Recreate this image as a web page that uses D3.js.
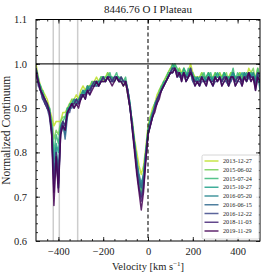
<!DOCTYPE html>
<html>
<head>
<meta charset="utf-8">
<script src="https://cdn.jsdelivr.net/npm/d3@7"></script>
<style>
  body { margin: 0; background: #fff; }
  svg { display: block; }
</style>
</head>
<body>
<div id="chart"></div>
<script>
// Chart data
let title = '8446.76 O I Plateau';
let velocity = d3.range(-500, 501, 10);
let dates = ['2013-12-27', '2015-06-02', '2015-07-24', '2015-10-27', '2016-05-20',
  '2016-06-15', '2016-12-22', '2018-11-03', '2019-11-29'];
// gray marker lines (km/s)
let markers = [-423, -396, -314];
let xTicks = [-400, -200, 0, 200, 400];
let yTicks = [0.6, 0.7, 0.8, 0.9, 1.0, 1.1];

let flux0 = [1.00, 0.97, 0.95, 0.94, 0.93, 0.92, 0.90, 0.88, 0.86, 0.87,
  0.87, 0.87, 0.89, 0.89, 0.90, 0.91, 0.92, 0.92, 0.93, 0.92,
  0.94, 0.95, 0.94, 0.95, 0.95, 0.96, 0.96, 0.97, 0.96, 0.97,
  0.96, 0.97, 0.98, 0.97, 0.97, 0.96, 0.97, 0.97, 0.96, 0.95,
  0.96, 0.93, 0.90, 0.87, 0.83, 0.80, 0.77, 0.75, 0.77, 0.81,
  0.86, 0.88, 0.90, 0.91, 0.93, 0.94, 0.95, 0.96, 0.97, 0.98,
  0.99, 1.00, 0.99, 0.98, 0.99, 0.98, 0.99, 0.97, 0.98, 1.00,
  0.98, 0.97, 0.97, 0.97, 0.98, 0.97, 0.97, 0.98, 0.97, 0.97,
  0.98, 0.97, 0.98, 0.97, 0.98, 0.97, 0.97, 0.98, 0.98, 0.97,
  0.97, 0.98, 0.97, 0.98, 0.97, 0.99, 0.98, 0.98, 0.97, 0.99, 0.96];
let flux1 = [0.99, 0.96, 0.95, 0.93, 0.92, 0.91, 0.89, 0.87, 0.83, 0.85,
  0.84, 0.87, 0.88, 0.88, 0.90, 0.90, 0.92, 0.91, 0.92, 0.92,
  0.93, 0.94, 0.94, 0.95, 0.94, 0.95, 0.96, 0.96, 0.96, 0.97,
  0.97, 0.96, 0.98, 0.97, 0.96, 0.97, 0.97, 0.96, 0.97, 0.96,
  0.96, 0.94, 0.90, 0.86, 0.82, 0.78, 0.74, 0.71, 0.75, 0.80,
  0.85, 0.88, 0.89, 0.91, 0.92, 0.94, 0.95, 0.96, 0.97, 0.98,
  0.99, 0.99, 1.00, 0.98, 0.99, 0.97, 0.99, 0.97, 0.98, 0.99,
  0.97, 0.96, 0.97, 0.96, 0.98, 0.97, 0.96, 0.98, 0.97, 0.96,
  0.97, 0.97, 0.98, 0.96, 0.97, 0.98, 0.96, 0.98, 0.98, 0.96,
  0.97, 0.98, 0.96, 0.98, 0.97, 0.98, 0.98, 0.99, 0.96, 0.98, 0.97];
let flux2 = [0.99, 0.97, 0.94, 0.94, 0.92, 0.91, 0.90, 0.86, 0.80, 0.84,
  0.82, 0.86, 0.87, 0.88, 0.89, 0.91, 0.91, 0.92, 0.91, 0.92,
  0.93, 0.94, 0.93, 0.95, 0.94, 0.96, 0.95, 0.96, 0.95, 0.97,
  0.97, 0.97, 0.97, 0.98, 0.96, 0.97, 0.98, 0.96, 0.97, 0.96,
  0.97, 0.94, 0.91, 0.86, 0.82, 0.77, 0.73, 0.70, 0.74, 0.79,
  0.85, 0.87, 0.89, 0.90, 0.92, 0.93, 0.95, 0.95, 0.96, 0.98,
  0.98, 0.99, 1.00, 0.99, 0.98, 0.98, 0.98, 0.97, 0.99, 0.98,
  0.98, 0.96, 0.97, 0.96, 0.97, 0.98, 0.96, 0.97, 0.98, 0.96,
  0.98, 0.97, 0.97, 0.97, 0.98, 0.96, 0.97, 0.97, 0.99, 0.96,
  0.98, 0.97, 0.97, 0.98, 0.96, 0.98, 0.97, 0.98, 0.96, 0.99, 0.97];
let flux3 = [0.98, 0.96, 0.95, 0.93, 0.92, 0.90, 0.90, 0.86, 0.78, 0.82,
  0.80, 0.86, 0.87, 0.86, 0.90, 0.90, 0.91, 0.91, 0.92, 0.91,
  0.93, 0.93, 0.94, 0.94, 0.95, 0.95, 0.96, 0.95, 0.96, 0.96,
  0.97, 0.96, 0.97, 0.97, 0.97, 0.96, 0.97, 0.97, 0.96, 0.96,
  0.96, 0.94, 0.90, 0.87, 0.82, 0.78, 0.74, 0.72, 0.75, 0.80,
  0.85, 0.87, 0.88, 0.91, 0.92, 0.93, 0.94, 0.96, 0.96, 0.97,
  0.98, 1.00, 0.99, 0.98, 0.98, 0.97, 0.99, 0.98, 0.97, 0.99,
  0.97, 0.97, 0.96, 0.97, 0.97, 0.96, 0.97, 0.98, 0.96, 0.97,
  0.97, 0.98, 0.97, 0.96, 0.98, 0.97, 0.97, 0.96, 0.98, 0.97,
  0.97, 0.97, 0.98, 0.97, 0.98, 0.97, 0.98, 0.97, 0.97, 0.98, 0.95];
let flux4 = [0.99, 0.96, 0.94, 0.93, 0.91, 0.91, 0.89, 0.85, 0.75, 0.81,
  0.76, 0.85, 0.86, 0.84, 0.89, 0.90, 0.91, 0.92, 0.91, 0.92,
  0.92, 0.94, 0.93, 0.95, 0.94, 0.95, 0.95, 0.96, 0.96, 0.96,
  0.97, 0.96, 0.97, 0.97, 0.96, 0.97, 0.97, 0.96, 0.97, 0.96,
  0.96, 0.94, 0.91, 0.86, 0.82, 0.78, 0.75, 0.73, 0.75, 0.80,
  0.84, 0.87, 0.89, 0.90, 0.92, 0.93, 0.94, 0.95, 0.96, 0.97,
  0.98, 0.99, 0.99, 0.98, 0.98, 0.97, 0.98, 0.97, 0.98, 0.98,
  0.97, 0.96, 0.97, 0.96, 0.97, 0.97, 0.96, 0.97, 0.97, 0.96,
  0.97, 0.97, 0.97, 0.96, 0.97, 0.97, 0.96, 0.97, 0.98, 0.96,
  0.97, 0.97, 0.96, 0.98, 0.97, 0.98, 0.97, 0.98, 0.96, 0.98, 0.94];
let flux5 = [0.98, 0.96, 0.94, 0.92, 0.92, 0.90, 0.89, 0.85, 0.74, 0.80,
  0.72, 0.85, 0.87, 0.83, 0.88, 0.90, 0.90, 0.91, 0.92, 0.91,
  0.92, 0.93, 0.93, 0.94, 0.94, 0.95, 0.95, 0.96, 0.95, 0.96,
  0.97, 0.96, 0.97, 0.96, 0.96, 0.97, 0.97, 0.96, 0.96, 0.96,
  0.96, 0.94, 0.90, 0.86, 0.81, 0.77, 0.74, 0.72, 0.74, 0.79,
  0.84, 0.86, 0.88, 0.90, 0.91, 0.93, 0.94, 0.95, 0.96, 0.97,
  0.98, 0.98, 0.99, 0.98, 0.97, 0.97, 0.98, 0.96, 0.97, 0.98,
  0.96, 0.96, 0.96, 0.95, 0.97, 0.96, 0.96, 0.97, 0.96, 0.95,
  0.97, 0.96, 0.97, 0.96, 0.97, 0.96, 0.95, 0.97, 0.97, 0.96,
  0.96, 0.97, 0.96, 0.97, 0.96, 0.97, 0.97, 0.97, 0.95, 0.97, 0.96];
let flux6 = [0.98, 0.95, 0.94, 0.92, 0.91, 0.90, 0.88, 0.84, 0.73, 0.79,
  0.72, 0.84, 0.86, 0.85, 0.89, 0.89, 0.91, 0.90, 0.91, 0.91,
  0.92, 0.93, 0.92, 0.94, 0.93, 0.95, 0.95, 0.95, 0.95, 0.96,
  0.96, 0.96, 0.97, 0.96, 0.96, 0.96, 0.97, 0.96, 0.96, 0.95,
  0.96, 0.93, 0.90, 0.85, 0.81, 0.76, 0.72, 0.70, 0.73, 0.79,
  0.84, 0.86, 0.88, 0.90, 0.91, 0.93, 0.94, 0.95, 0.96, 0.97,
  0.98, 0.98, 0.99, 0.97, 0.98, 0.96, 0.98, 0.96, 0.97, 0.98,
  0.96, 0.95, 0.96, 0.95, 0.96, 0.96, 0.95, 0.97, 0.96, 0.95,
  0.96, 0.96, 0.97, 0.95, 0.96, 0.96, 0.95, 0.96, 0.97, 0.95,
  0.96, 0.96, 0.95, 0.97, 0.96, 0.97, 0.96, 0.97, 0.94, 0.97, 0.96];
let flux7 = [0.99, 0.96, 0.94, 0.93, 0.91, 0.90, 0.89, 0.85, 0.71, 0.80,
  0.73, 0.85, 0.87, 0.86, 0.89, 0.90, 0.91, 0.91, 0.92, 0.91,
  0.93, 0.93, 0.93, 0.94, 0.94, 0.95, 0.96, 0.96, 0.95, 0.96,
  0.97, 0.96, 0.97, 0.97, 0.96, 0.97, 0.97, 0.96, 0.97, 0.96,
  0.96, 0.94, 0.90, 0.86, 0.81, 0.76, 0.72, 0.69, 0.72, 0.78,
  0.84, 0.86, 0.88, 0.90, 0.92, 0.93, 0.94, 0.95, 0.96, 0.97,
  0.98, 0.99, 0.99, 0.98, 0.98, 0.97, 0.98, 0.97, 0.97, 0.99,
  0.97, 0.96, 0.96, 0.96, 0.97, 0.96, 0.96, 0.97, 0.96, 0.96,
  0.97, 0.96, 0.97, 0.96, 0.97, 0.97, 0.96, 0.97, 0.97, 0.96,
  0.97, 0.97, 0.96, 0.97, 0.97, 0.98, 0.97, 0.97, 0.95, 0.98, 0.97];
let flux8 = [0.98, 0.96, 0.94, 0.93, 0.92, 0.91, 0.89, 0.84, 0.68, 0.79,
  0.71, 0.84, 0.86, 0.85, 0.89, 0.90, 0.91, 0.90, 0.91, 0.90,
  0.92, 0.93, 0.92, 0.94, 0.93, 0.94, 0.95, 0.96, 0.95, 0.96,
  0.96, 0.96, 0.97, 0.96, 0.95, 0.96, 0.97, 0.96, 0.96, 0.95,
  0.96, 0.93, 0.90, 0.85, 0.80, 0.75, 0.71, 0.67, 0.71, 0.78,
  0.84, 0.86, 0.88, 0.89, 0.91, 0.92, 0.94, 0.95, 0.96, 0.97,
  0.98, 0.98, 0.99, 0.97, 0.98, 0.96, 0.98, 0.96, 0.97, 0.98,
  0.97, 0.95, 0.96, 0.95, 0.97, 0.96, 0.95, 0.97, 0.96, 0.95,
  0.97, 0.96, 0.97, 0.95, 0.96, 0.97, 0.95, 0.97, 0.97, 0.95,
  0.96, 0.97, 0.95, 0.97, 0.96, 0.98, 0.96, 0.97, 0.94, 0.97, 0.96];
let fluxes = [flux0, flux1, flux2, flux3, flux4, flux5, flux6, flux7, flux8];

// Layout
let width = 266;
let height = 275;
let margin = { top: 19.5, right: 6, bottom: 34, left: 36 };
let innerW = width - margin.left - margin.right;
let innerH = height - margin.top - margin.bottom;
let font = '"Liberation Serif", "DejaVu Serif", serif';

let svg = d3.select('#chart')
  .append('svg')
  .attr('width', width)
  .attr('height', height)
  .style('font-family', font);

let x = d3.scaleLinear().domain([-500, 500]).range([0, innerW]);
let y = d3.scaleLinear().domain([0.6, 1.1]).range([innerH, 0]);

// viridis from yellow-green down to purple
let color = (i) => d3.interpolateViridis(0.9 - i * 0.9 / (dates.length - 1));

let g = svg.append('g')
  .attr('transform', 'translate(' + margin.left + ',' + margin.top + ')');

g.append('defs').append('clipPath').attr('id', 'clip')
  .append('rect').attr('width', innerW).attr('height', innerH);

let plot = g.append('g').attr('clip-path', 'url(#clip)');

// gray marker lines
plot.selectAll('.marker')
  .data(markers)
  .enter()
  .append('line')
  .attr('x1', (d) => x(d)).attr('x2', (d) => x(d))
  .attr('y1', 0).attr('y2', innerH)
  .attr('stroke', '#cdcdcd')
  .attr('stroke-width', 1.5);

// spectra
let line = d3.line()
  .x((d, i) => x(velocity[i]))
  .y((d) => y(d));

plot.selectAll('.spec')
  .data(fluxes)
  .enter()
  .append('path')
  .attr('d', line)
  .attr('fill', 'none')
  .attr('stroke', (d, i) => color(i))
  .attr('stroke-opacity', 0.85)
  .attr('stroke-width', 1.5)
  .attr('stroke-linejoin', 'round');

// continuum level and zero velocity
plot.append('line')
  .attr('x1', 0).attr('x2', innerW)
  .attr('y1', y(1.0)).attr('y2', y(1.0))
  .attr('stroke', '#222')
  .attr('stroke-width', 1.2);

plot.append('line')
  .attr('x1', x(0)).attr('x2', x(0))
  .attr('y1', 0).attr('y2', innerH)
  .attr('stroke', '#222')
  .attr('stroke-width', 1.2)
  .attr('stroke-dasharray', '4,2.5');

// axes with inward ticks on all sides
function styleAxis(sel) {
  sel.select('.domain').remove();
  sel.selectAll('line').attr('stroke', '#000').attr('stroke-width', 0.8);
  sel.selectAll('text').attr('font-family', font).attr('font-size', 10.5).attr('fill', '#222');
}
let fmtX = (d) => d < 0 ? '\u2212' + Math.abs(d) : d;
let minorX = d3.range(-450, 500, 50);
let minorY = d3.range(0.62, 1.1, 0.02);

g.append('g').attr('transform', 'translate(0,' + innerH + ')')
  .call(d3.axisBottom(x).tickValues(xTicks).tickSizeInner(-4).tickSizeOuter(0).tickPadding(7).tickFormat(fmtX))
  .call(styleAxis);
g.append('g').attr('transform', 'translate(0,' + innerH + ')')
  .call(d3.axisBottom(x).tickValues(minorX).tickSizeInner(-2).tickSizeOuter(0).tickFormat(''))
  .call(styleAxis);
g.append('g')
  .call(d3.axisTop(x).tickValues(xTicks).tickSizeInner(-4).tickSizeOuter(0).tickFormat(''))
  .call(styleAxis);
g.append('g')
  .call(d3.axisTop(x).tickValues(minorX).tickSizeInner(-2).tickSizeOuter(0).tickFormat(''))
  .call(styleAxis);

g.append('g')
  .call(d3.axisLeft(y).tickValues(yTicks).tickSizeInner(-4).tickSizeOuter(0).tickPadding(9).tickFormat(d3.format('.1f')))
  .call(styleAxis);
g.append('g')
  .call(d3.axisLeft(y).tickValues(minorY).tickSizeInner(-2).tickSizeOuter(0).tickFormat(''))
  .call(styleAxis);
g.append('g').attr('transform', 'translate(' + innerW + ',0)')
  .call(d3.axisRight(y).tickValues(yTicks).tickSizeInner(-4).tickSizeOuter(0).tickFormat(''))
  .call(styleAxis);
g.append('g').attr('transform', 'translate(' + innerW + ',0)')
  .call(d3.axisRight(y).tickValues(minorY).tickSizeInner(-2).tickSizeOuter(0).tickFormat(''))
  .call(styleAxis);

// frame
g.append('rect')
  .attr('width', innerW).attr('height', innerH)
  .attr('fill', 'none').attr('stroke', '#000').attr('stroke-width', 1);

// legend
let legend = g.append('g').attr('transform', 'translate(' + (innerW - 58) + ',' + (innerH - 86) + ')');
legend.append('rect')
  .attr('width', 57).attr('height', 84)
  .attr('rx', 1.5)
  .attr('fill', '#fff').attr('fill-opacity', 0.85)
  .attr('stroke', '#ccc').attr('stroke-width', 0.8);
let item = legend.selectAll('.item')
  .data(dates)
  .enter()
  .append('g')
  .attr('transform', (d, i) => 'translate(0,' + (6 + i * 8.75) + ')');
item.append('line')
  .attr('x1', 2.5).attr('x2', 16.5)
  .attr('stroke', (d, i) => color(i))
  .attr('stroke-opacity', 0.85)
  .attr('stroke-width', 1.5);
item.append('text')
  .attr('x', 21)
  .attr('dy', '0.33em')
  .attr('font-size', 6.2)
  .attr('fill', '#222')
  .text((d) => d);

// title and labels
svg.append('text')
  .attr('x', margin.left + innerW / 2)
  .attr('y', 13)
  .attr('text-anchor', 'middle')
  .attr('font-size', 11)
  .attr('fill', '#222')
  .text(title);

let xl = svg.append('text')
  .attr('x', margin.left + innerW / 2)
  .attr('y', 270)
  .attr('text-anchor', 'middle')
  .attr('font-size', 10.5)
  .attr('fill', '#222')
  .text('Velocity [km s');
xl.append('tspan').attr('dy', -4).attr('font-size', 7).text('\u22121');
xl.append('tspan').attr('dy', 4).text(']');

svg.append('text')
  .attr('transform', 'translate(10,' + (margin.top + innerH / 2) + ') rotate(-90)')
  .attr('text-anchor', 'middle')
  .attr('font-size', 11.5)
  .attr('fill', '#222')
  .text('Normalized Continuum');
</script>
</body>
</html>
